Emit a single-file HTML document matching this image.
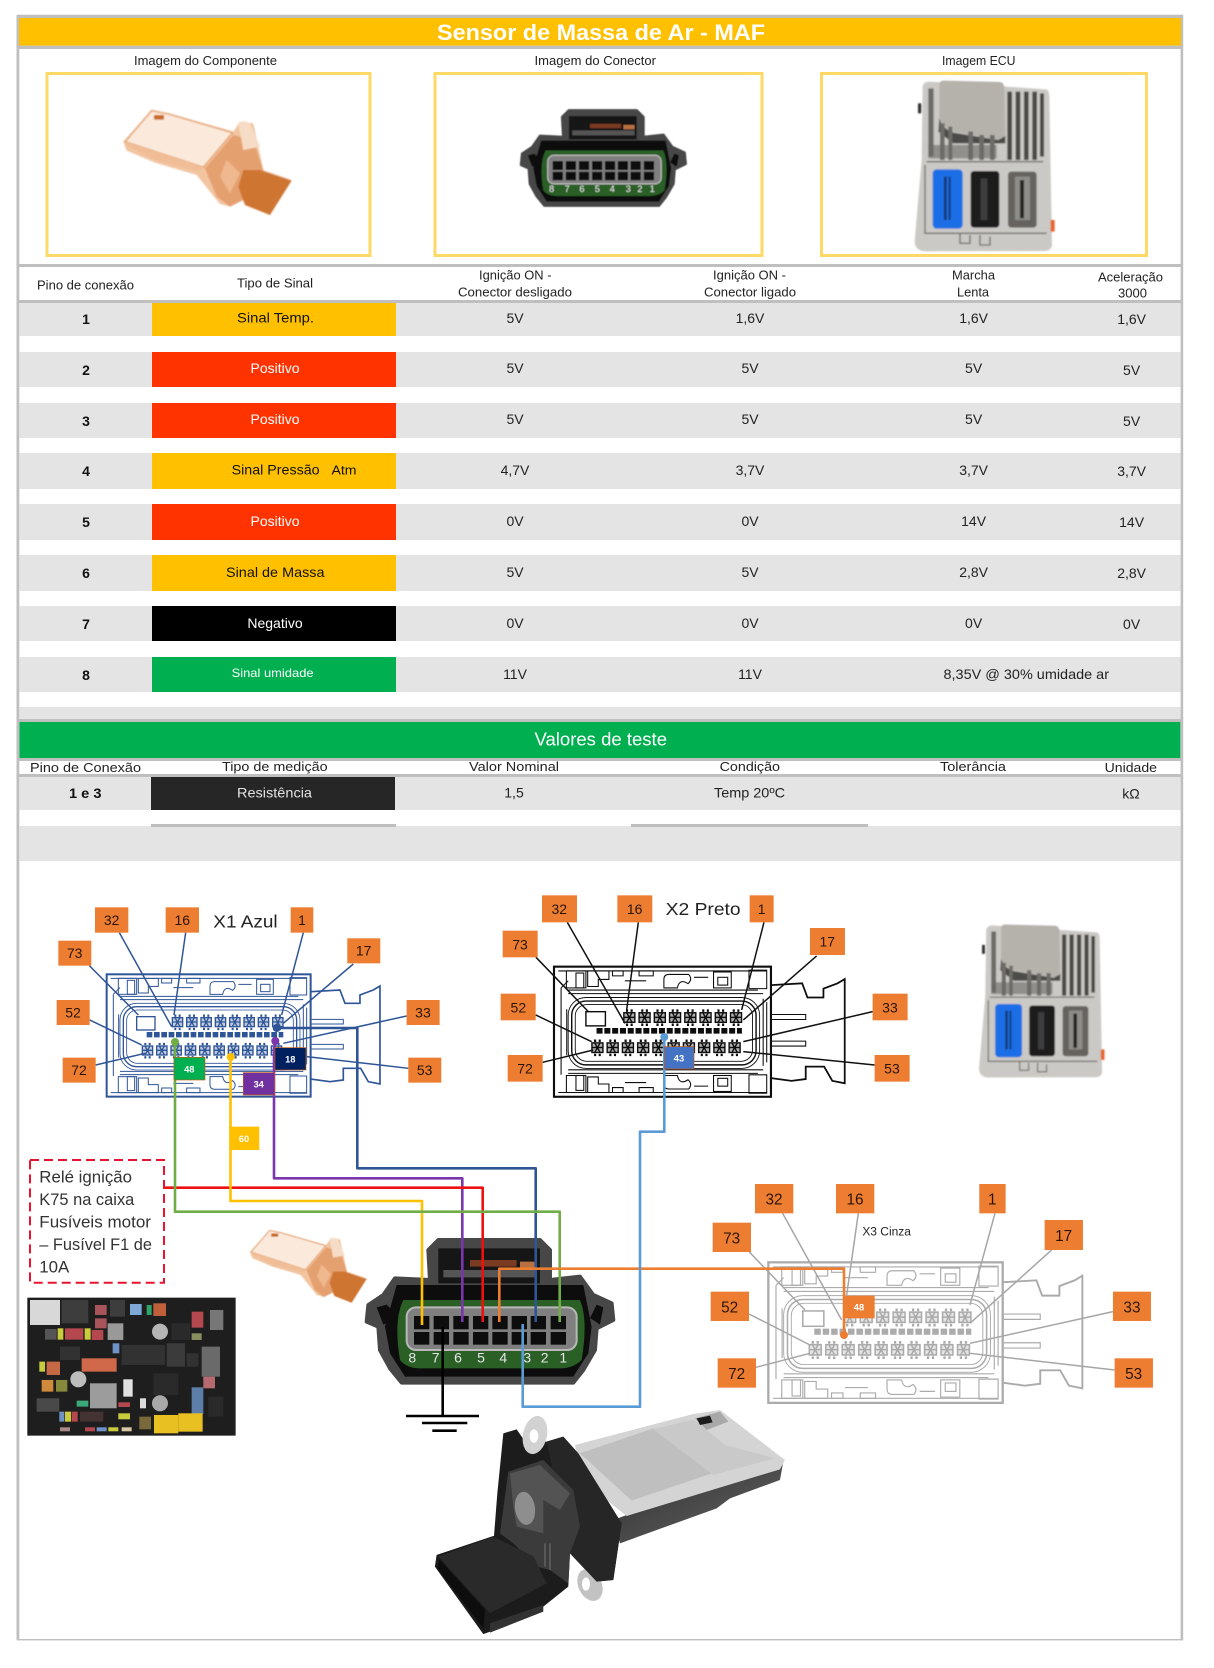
<!DOCTYPE html>
<html lang="pt"><head><meta charset="utf-8"><title>Sensor de Massa de Ar - MAF</title>
<style>
html,body{margin:0;padding:0;background:#fff}
svg{display:block}
text{font-family:"Liberation Sans",sans-serif}
.h{font-size:13px;fill:#222}
.v{font-size:14px;fill:#222;text-anchor:middle}
.p{font-size:14px;font-weight:bold;fill:#111;text-anchor:middle}
.l{font-size:14px;text-anchor:middle}
.b{fill:#ed7d31}
.n{font-size:42px;fill:#2a1505;text-anchor:middle}
.t{font-size:28px;font-weight:bold;fill:#fff;text-anchor:middle}
</style></head><body>
<svg xmlns="http://www.w3.org/2000/svg" width="1214" height="1668" viewBox="0 0 1214 1668">
<defs>
<filter id="bl" x="-5%" y="-5%" width="110%" height="110%"><feGaussianBlur stdDeviation="2.4"/></filter>
<filter id="bs" x="-3%" y="-3%" width="106%" height="106%"><feGaussianBlur stdDeviation="1.1"/></filter>
<g id="pin"><rect x="2" y="8" width="31" height="27" fill="currentColor" fill-opacity=".3"/><g fill="none" stroke="currentColor" stroke-width="4"><rect x="2" y="8" width="31" height="27"/><path d="M2 21H33M10 8L25 35M25 8L10 35"/></g><path d="M8 2h6M21 2h6M8 42h6M21 42h6" stroke="currentColor" stroke-width="7" fill="none"/></g>
<g id="strip" fill="none" stroke="currentColor" stroke-width="3"><rect x="35" y="12" width="55" height="48"/><rect x="62" y="18" width="22" height="42"/><path d="M95 12h60v24h-30v20h-30zM165 12h30v14h-30zM240 12h40v14h-40z"/><path d="M310 60v-24q0-14 14-14h56q12 14-2 26-24-16-30 12z"/><rect x="450" y="15" width="50" height="45"/><rect x="462" y="30" width="28" height="22"/><path d="M550 10h50v52h-50zM40 66H575M40 76H590M12 12H600M200 40h60M395 30h40"/></g>
<g id="conn" fill="none" stroke="currentColor">
<rect x="0" y="0" width="612" height="367" stroke-width="6"/>
<path d="M612 52L700 47L715 87H760V62L800 47L820 35V329L785 322L762 282H710V317L670 322L610 314" stroke-width="5"/>
<path d="M615 135H710V149H615M615 210H710V224H615" stroke-width="3"/>
<rect x="50" y="97" width="520" height="180" rx="40" stroke-width="4"/>
<rect x="60" y="107" width="500" height="160" rx="32" stroke-width="2.5"/>
<rect x="40" y="87" width="540" height="200" rx="50" stroke-width="2.5"/>
<path d="M20 60V305M36 120V250M20 60L40 40M590 90V280M600 100V270" stroke-width="3"/>
<rect x="90" y="127" width="55" height="40" stroke-width="4"/>
<use href="#strip"/><use href="#strip" transform="matrix(1 0 0 -1 0 367)"/>
<use href="#pin" x="195" y="122"/><use href="#pin" x="238" y="122"/><use href="#pin" x="281" y="122"/><use href="#pin" x="324" y="122"/><use href="#pin" x="367" y="122"/><use href="#pin" x="410" y="122"/><use href="#pin" x="453" y="122"/><use href="#pin" x="496" y="122"/>
<path d="M120 181H530" stroke-width="16" stroke-dasharray="17 5"/>
<use href="#pin" x="105" y="207"/><use href="#pin" x="148" y="207"/><use href="#pin" x="191" y="207"/><use href="#pin" x="234" y="207"/><use href="#pin" x="277" y="207"/><use href="#pin" x="320" y="207"/><use href="#pin" x="363" y="207"/><use href="#pin" x="406" y="207"/><use href="#pin" x="449" y="207"/><use href="#pin" x="492" y="207"/>
</g>
<g id="sensor">
<path d="M280 245L290 272L375 308L500 345L540 395L570 432L600 440L640 420L645 435L720 465L785 360L700 330L670 190L630 185L610 215L415 160L365 150Z" fill="#f2c4a0"/>
<path d="M285 245L365 152L415 162L608 218L520 322Z" fill="#fbeadc" stroke="#e7a97c" stroke-width="5"/>
<path d="M288 255L375 300L510 335L520 322L285 245Z" fill="#f0bd96"/>
<path d="M372 165h30v14h-30z" fill="#c96a28"/>
<path d="M525 325L610 225L670 240L700 330L640 420L600 440L560 410Z" fill="#e5a070"/>
<path d="M625 190q15-12 35 0l30 70-50 10z" fill="#f6dcc6"/>
<path d="M640 330L690 330L785 362L720 465L645 435L625 380Z" fill="#cf7433"/>
<path d="M590 300l40 40-30 60-30-50z" fill="#efb88e"/>
</g>
<g id="plug8">
<path d="M185 488L150 445L120 390L115 320L80 305L85 255L130 225L165 175L270 180L265 90L295 60H600L630 90V180L720 170L760 225L815 250L820 300L770 325L765 390L730 450L700 488Z" fill="#474747" stroke="#474747" stroke-width="12" stroke-linejoin="round"/>
<path d="M295 85H600V190H295Z" fill="#141414"/>
<path d="M390 120H530V140H390Z" fill="#7a3a20"/><path d="M310 150H590V172H310Z" fill="#555"/><path d="M540 125H590V145H540Z" fill="#b87040"/>
<path d="M195 470L150 400L135 320L170 195H730L755 320L745 400L700 470Z" fill="#0e0e0e"/>
<path d="M110 262l30-8 40 40-50 20z" fill="#111"/><path d="M790 262l-20-8-20 40 30 20z" fill="#111"/>
<path d="M190 240H720Q745 300 725 420Q700 445 660 445H240Q200 445 180 420Q160 300 190 240Z" fill="#2a5f28"/>
<rect x="200" y="262" width="510" height="128" rx="28" fill="#7f7f7f" stroke="#b8b8b8" stroke-width="6"/>
<g fill="#0c0c0c">
<rect x="222" y="288" width="46" height="40"/><rect x="222" y="336" width="46" height="38"/>
<rect x="281" y="288" width="46" height="40"/><rect x="281" y="336" width="46" height="38"/>
<rect x="340" y="288" width="46" height="40"/><rect x="340" y="336" width="46" height="38"/>
<rect x="399" y="288" width="46" height="40"/><rect x="399" y="336" width="46" height="38"/>
<rect x="457" y="288" width="46" height="40"/><rect x="457" y="336" width="46" height="38"/>
<rect x="515" y="288" width="46" height="40"/><rect x="515" y="336" width="46" height="38"/>
<rect x="572" y="288" width="46" height="40"/><rect x="572" y="336" width="46" height="38"/>
<rect x="632" y="288" width="46" height="40"/><rect x="632" y="336" width="46" height="38"/>
</g>
<g font-size="42" fill="#e6e6e6" text-anchor="middle"><text x="217" y="428">8</text><text x="287" y="428">7</text><text x="354" y="428">6</text><text x="423" y="428">5</text><text x="490" y="428">4</text><text x="562" y="428">3</text><text x="614" y="428">2</text><text x="670" y="428">1</text></g>
</g>
<g id="ecu">
<path d="M308 80Q310 65 330 65L680 88Q688 92 688 110L696 555Q694 574 670 573L315 574Q285 572 284 545L305 300Z" fill="#cbc9c5"/>
<path d="M358 72Q360 60 375 62L540 66Q553 68 553 85L556 225Q555 240 535 238L400 215Q365 200 358 175Z" fill="#b5b1ab"/>
<path d="M358 175Q365 205 400 218L535 240L556 228V250H400L355 215Z" fill="#4e4c4a"/>
<path d="M325 85h16v205h-16zM360 190h14v110h-14zM385 200h12v100h-12zM445 215h14v85h-14zM478 225h14v75h-14zM510 225h14v75h-14z" fill="#6e6c68"/>
<path d="M325 255H530V295H325Z" fill="#6b6966" fill-opacity=".6"/>
<path d="M562 95h14v205h-14zM587 95h14v205h-14zM612 95h14v205h-14zM637 95h14v205h-14zM660 100h12v190h-12z" fill="#4a4845"/>
<path d="M320 305H670M315 315V520H680" fill="none" stroke="#6e6c68" stroke-width="4"/>
<rect x="338" y="328" width="90" height="178" rx="12" fill="#1a6ee6"/>
<path d="M372 350h8v130h-8zM386 350h6v130h-6z" fill="#12356e"/>
<rect x="452" y="333" width="86" height="170" rx="10" fill="#1a1a1a"/>
<path d="M482 355h20v125h-20z" fill="#3e3e3e"/>
<rect x="564" y="335" width="86" height="168" rx="10" fill="#66645f"/>
<path d="M585 350h45v130h-45z" fill="#8f8d88"/><path d="M600 360h12v115h-12z" fill="#222"/>
<path d="M692 480h12v35h-12z" fill="#e8622a"/><path d="M294 130h10v30h-10z" fill="#333"/>
<path d="M420 520v30h30v-25M480 525v30h30v-25" fill="none" stroke="#6e6c68" stroke-width="4"/>
</g>
</defs>

<rect width="1214" height="1668" fill="#fff"/>
<!-- outer frame -->
<rect x="16.5" y="15" width="2.8" height="1625" fill="#bfbfbf"/>
<rect x="1180.6" y="15" width="2.6" height="1625" fill="#bfbfbf"/>
<rect x="17" y="14.7" width="1166" height="3.3" fill="#bfbfbf"/>
<rect x="17" y="1639" width="1166" height="1.4" fill="#bfbfbf"/>
<!-- title -->
<rect x="19" y="18" width="1162" height="27.7" fill="#ffc000"/>
<rect x="17" y="45.7" width="1166" height="3.3" fill="#bfbfbf"/>
<text x="437" y="40" font-size="22" font-weight="bold" fill="#fff" textLength="328" lengthAdjust="spacingAndGlyphs">Sensor de Massa de Ar - MAF</text>
<text class="h" x="134" y="65" textLength="143" lengthAdjust="spacingAndGlyphs">Imagem do Componente</text>
<text class="h" x="534.5" y="65" textLength="121.5" lengthAdjust="spacingAndGlyphs">Imagem do Conector</text>
<text class="h" x="942" y="65" textLength="73.5" lengthAdjust="spacingAndGlyphs">Imagem ECU</text>
<g fill="none" stroke="#ffd966" stroke-width="3">
<rect x="47" y="73.5" width="323" height="182"/><rect x="435" y="73.5" width="327" height="182"/><rect x="821.5" y="73.5" width="325" height="182"/>
</g>
<g transform="translate(30 60) scale(.3333)"><g filter="url(#bl)"><use href="#sensor"/></g></g>
<g transform="translate(430 60) scale(.3333) translate(272 148) scale(.667) translate(-78 -55)"><g filter="url(#bl)"><use href="#plug8"/></g></g>
<g transform="translate(820 60) scale(.3333)"><g filter="url(#bl)"><use href="#ecu"/></g></g>
<!-- header -->
<rect x="17" y="264" width="1166" height="3" fill="#bfbfbf"/>
<rect x="17" y="300" width="1166" height="3" fill="#bfbfbf"/>
<text class="h" x="37" y="289.5" textLength="97" lengthAdjust="spacingAndGlyphs">Pino de conexão</text>
<text class="h" x="237" y="287.5" textLength="76" lengthAdjust="spacingAndGlyphs">Tipo de Sinal</text>
<text class="h" x="479" y="279.5" textLength="72.5" lengthAdjust="spacingAndGlyphs">Ignição ON -</text>
<text class="h" x="458" y="296.5" textLength="114" lengthAdjust="spacingAndGlyphs">Conector desligado</text>
<text class="h" x="713" y="279.5" textLength="73" lengthAdjust="spacingAndGlyphs">Ignição ON -</text>
<text class="h" x="704" y="296.5" textLength="92" lengthAdjust="spacingAndGlyphs">Conector ligado</text>
<text class="h" x="952" y="279.5" textLength="43" lengthAdjust="spacingAndGlyphs">Marcha</text>
<text class="h" x="957" y="296.5" textLength="32" lengthAdjust="spacingAndGlyphs">Lenta</text>
<text class="h" x="1098" y="281.5" textLength="65" lengthAdjust="spacingAndGlyphs">Aceleração</text>
<text class="h" x="1118" y="297.5" textLength="29" lengthAdjust="spacingAndGlyphs">3000</text>
<!-- rows -->
<g fill="#e4e4e4">
<rect x="19.4" y="303" width="1161.2" height="33"/><rect x="19.4" y="352" width="1161.2" height="35"/><rect x="19.4" y="403" width="1161.2" height="35"/><rect x="19.4" y="453" width="1161.2" height="36"/><rect x="19.4" y="504" width="1161.2" height="36"/><rect x="19.4" y="555" width="1161.2" height="36"/><rect x="19.4" y="606" width="1161.2" height="35"/><rect x="19.4" y="657" width="1161.2" height="35"/><rect x="19.4" y="707" width="1161.2" height="12"/>
</g>
<rect x="152" y="303" width="244" height="33" fill="#ffc000"/>
<rect x="152" y="352" width="244" height="35" fill="#ff3300"/>
<rect x="152" y="403" width="244" height="35" fill="#ff3300"/>
<rect x="152" y="453" width="244" height="36" fill="#ffc000"/>
<rect x="152" y="504" width="244" height="36" fill="#ff3300"/>
<rect x="152" y="555" width="244" height="36" fill="#ffc000"/>
<rect x="152" y="606" width="244" height="35" fill="#000"/>
<rect x="152" y="657" width="244" height="35" fill="#00b050"/>
<text class="p" x="86" y="324">1</text><text class="p" x="86" y="375">2</text><text class="p" x="86" y="426">3</text><text class="p" x="86" y="476">4</text><text class="p" x="86" y="527">5</text><text class="p" x="86" y="578">6</text><text class="p" x="86" y="629">7</text><text class="p" x="86" y="680">8</text>
<text x="237" y="322.5" font-size="14" fill="#111" textLength="77" lengthAdjust="spacingAndGlyphs">Sinal Temp.</text>
<text class="l" x="275" y="373" fill="#fff">Positivo</text>
<text class="l" x="275" y="424" fill="#fff">Positivo</text>
<text x="231.6" y="474.5" font-size="14" fill="#111" textLength="88" lengthAdjust="spacingAndGlyphs">Sinal Pressão</text>
<text x="331.5" y="474.5" font-size="12.5" fill="#111" textLength="25" lengthAdjust="spacingAndGlyphs">Atm</text>
<text class="l" x="275" y="526" fill="#fff">Positivo</text>
<text x="226" y="577" font-size="14" fill="#111" textLength="98.5" lengthAdjust="spacingAndGlyphs">Sinal de Massa</text>
<text class="l" x="275" y="628" fill="#fff">Negativo</text>
<text x="231.6" y="677" font-size="12" fill="#fff" textLength="82" lengthAdjust="spacingAndGlyphs">Sinal umidade</text>
<g class="vals">
<text class="v" x="515" y="323">5V</text><text class="v" x="750" y="323">1,6V</text><text class="v" x="973.6" y="323">1,6V</text><text class="v" x="1131.6" y="324">1,6V</text>
<text class="v" x="515" y="373">5V</text><text class="v" x="750" y="373">5V</text><text class="v" x="973.6" y="373">5V</text><text class="v" x="1131.6" y="375">5V</text>
<text class="v" x="515" y="424">5V</text><text class="v" x="750" y="424">5V</text><text class="v" x="973.6" y="424">5V</text><text class="v" x="1131.6" y="426">5V</text>
<text class="v" x="515" y="475">4,7V</text><text class="v" x="750" y="475">3,7V</text><text class="v" x="973.6" y="475">3,7V</text><text class="v" x="1131.6" y="476">3,7V</text>
<text class="v" x="515" y="526">0V</text><text class="v" x="750" y="526">0V</text><text class="v" x="973.6" y="526">14V</text><text class="v" x="1131.6" y="527">14V</text>
<text class="v" x="515" y="577">5V</text><text class="v" x="750" y="577">5V</text><text class="v" x="973.6" y="577">2,8V</text><text class="v" x="1131.6" y="578">2,8V</text>
<text class="v" x="515" y="628">0V</text><text class="v" x="750" y="628">0V</text><text class="v" x="973.6" y="628">0V</text><text class="v" x="1131.6" y="629">0V</text>
<text class="v" x="515" y="679">11V</text><text class="v" x="750" y="679">11V</text>
<text x="943.5" y="679" font-size="14" fill="#222" textLength="165.5" lengthAdjust="spacingAndGlyphs">8,35V @ 30% umidade ar</text>
</g>
<!-- valores de teste -->
<rect x="17" y="719" width="1166" height="3" fill="#bfbfbf"/>
<rect x="19.4" y="722" width="1161" height="36" fill="#00b050"/>
<rect x="17" y="758" width="1166" height="3" fill="#bfbfbf"/>
<text x="534.5" y="745.5" font-size="18" fill="#fff" textLength="132.5" lengthAdjust="spacingAndGlyphs">Valores de teste</text>
<text class="h" x="30" y="772" textLength="111" lengthAdjust="spacingAndGlyphs">Pino de Conexão</text>
<text class="h" x="222" y="771" textLength="105.6" lengthAdjust="spacingAndGlyphs">Tipo de medição</text>
<text class="h" x="469" y="771" textLength="90" lengthAdjust="spacingAndGlyphs">Valor Nominal</text>
<text class="h" x="719.6" y="771" textLength="60.4" lengthAdjust="spacingAndGlyphs">Condição</text>
<text class="h" x="940" y="771" textLength="66" lengthAdjust="spacingAndGlyphs">Tolerância</text>
<text class="h" x="1104.6" y="772" textLength="52.4" lengthAdjust="spacingAndGlyphs">Unidade</text>
<rect x="17" y="774" width="1166" height="3" fill="#bfbfbf"/>
<rect x="19.4" y="777" width="1161.2" height="33" fill="#e4e4e4"/>
<rect x="151" y="777" width="244" height="33" fill="#262626"/>
<text x="69" y="798" font-size="14" font-weight="bold" fill="#111" textLength="32.5" lengthAdjust="spacingAndGlyphs">1 e 3</text>
<text x="237" y="797.5" font-size="14" fill="#e2e2e2" textLength="75" lengthAdjust="spacingAndGlyphs">Resistência</text>
<text class="v" x="514" y="797.5">1,5</text>
<text x="714" y="797.5" font-size="14" fill="#222" textLength="71" lengthAdjust="spacingAndGlyphs">Temp 20ºC</text>
<text class="v" x="1131" y="798.5">kΩ</text>
<rect x="19.4" y="826" width="1161.2" height="35" fill="#e4e4e4"/>
<rect x="151" y="824" width="245" height="3" fill="#bfbfbf"/>
<rect x="631" y="824" width="237" height="3" fill="#bfbfbf"/>

<!-- X1 -->
<g transform="translate(20 880) scale(.3333)">
<g style="color:#2f5597" filter="url(#bs)"><use href="#conn" transform="translate(260 283)"/></g>
<g fill="none" stroke="#2f5597" stroke-width="4.5">
<path d="M298 158L455 440M497 158L462 405M850 158L785 405M208 257L355 405M1000 252L790 430M209 420L365 495M1160 408L790 490M227 555L375 520M1165 565L860 530"/>
</g>
<rect class="b" x="225" y="82" width="100" height="76"/><rect class="b" x="437" y="82" width="100" height="76"/><rect class="b" x="812" y="82" width="68" height="76"/><rect class="b" x="115" y="182" width="99" height="75"/><rect class="b" x="982" y="175" width="99" height="75"/><rect class="b" x="110" y="360" width="99" height="75"/><rect class="b" x="1160" y="360" width="99" height="75"/><rect class="b" x="128" y="533" width="99" height="75"/><rect class="b" x="1165" y="533" width="99" height="75"/>
<text class="n" x="275" y="135">32</text><text class="n" x="487" y="135">16</text><text class="n" x="846" y="135">1</text><text class="n" x="164" y="234">73</text><text class="n" x="1031" y="227">17</text><text class="n" x="159" y="412">52</text><text class="n" x="1209" y="412">33</text><text class="n" x="177" y="585">72</text><text class="n" x="1214" y="585">53</text>
<text x="580" y="143" font-size="54" fill="#222" textLength="193" lengthAdjust="spacingAndGlyphs">X1 Azul</text>
</g>
<!-- X2 -->
<g transform="translate(480 880) scale(.3333)">
<g style="color:#111" filter="url(#bs)"><use href="#conn" transform="translate(222 260) scale(1.0637)"/></g>
<g fill="none" stroke="#111" stroke-width="4.5">
<path d="M262 127L435 430M475 127L440 390M852 127L785 390M168 232L325 395M1010 228L790 420M167 405L335 485M1178 395L790 485M188 547L340 510M1184 555L790 515"/>
</g>
<rect class="b" x="186" y="46" width="105" height="81"/><rect class="b" x="412" y="46" width="105" height="81"/><rect class="b" x="809" y="46" width="72" height="81"/><rect class="b" x="68" y="152" width="105" height="80"/><rect class="b" x="990" y="144" width="105" height="81"/><rect class="b" x="62" y="341" width="105" height="80"/><rect class="b" x="1178" y="341" width="105" height="80"/><rect class="b" x="83" y="525" width="105" height="80"/><rect class="b" x="1184" y="525" width="105" height="80"/>
<text class="n" x="238" y="102">32</text><text class="n" x="464" y="102">16</text><text class="n" x="845" y="102">1</text><text class="n" x="120" y="208">73</text><text class="n" x="1042" y="200">17</text><text class="n" x="115" y="397">52</text><text class="n" x="1230" y="397">33</text><text class="n" x="135" y="581">72</text><text class="n" x="1236" y="581">53</text>
<text x="557" y="105" font-size="54" fill="#222" textLength="225" lengthAdjust="spacingAndGlyphs">X2 Preto</text>
</g>
<!-- X3 -->
<g transform="translate(700 1170) scale(.3333)">
<g style="color:#ababab" filter="url(#bs)"><use href="#conn" transform="translate(205 277) scale(1.149)"/></g>
<g fill="none" stroke="#a6a6a6" stroke-width="4.5">
<path d="M248 130L425 450M475 130L440 375M885 130L810 405M148 246L315 420M1055 240L810 460M147 432L330 525M1239 425L810 520M168 592L330 550M1244 600L810 550"/>
</g>
<rect class="b" x="165" y="42" width="115" height="88"/><rect class="b" x="408" y="42" width="115" height="88"/><rect class="b" x="838" y="42" width="79" height="88"/><rect class="b" x="38" y="158" width="115" height="88"/><rect class="b" x="1034" y="150" width="115" height="90"/><rect class="b" x="32" y="365" width="115" height="88"/><rect class="b" x="1239" y="365" width="114" height="88"/><rect class="b" x="53" y="565" width="115" height="88"/><rect class="b" x="1244" y="565" width="115" height="88"/>
<g><text class="n" style="font-size:46px" x="222" y="104">32</text><text class="n" style="font-size:46px" x="465" y="104">16</text><text class="n" style="font-size:46px" x="877" y="104">1</text><text class="n" style="font-size:46px" x="95" y="220">73</text><text class="n" style="font-size:46px" x="1091" y="213">17</text><text class="n" style="font-size:46px" x="89" y="427">52</text><text class="n" style="font-size:46px" x="1296" y="427">33</text><text class="n" style="font-size:46px" x="110" y="627">72</text><text class="n" style="font-size:46px" x="1301" y="627">53</text></g>
<text x="487" y="197" font-size="36" fill="#222" textLength="146" lengthAdjust="spacingAndGlyphs">X3 Cinza</text>
</g>
<!-- small sensor, 8-pin plug, ECU, fuse box, relay note -->
<g transform="translate(10 1150) scale(.3333) translate(720 240) scale(.693) translate(-280 -150)"><g filter="url(#bl)"><use href="#sensor"/></g></g>
<g transform="translate(340 1220) scale(.3333)"><g filter="url(#bs)"><use href="#plug8"/></g></g>
<g transform="translate(960 900) scale(.3333) translate(58 72) scale(.896) translate(-285 -60)"><g filter="url(#bl)"><use href="#ecu"/></g></g>

<rect x="30" y="1160" width="134" height="122.7" fill="#fff" stroke="#e8132e" stroke-width="2" stroke-dasharray="9 5"/>
<g font-size="17" fill="#333">
<text x="39.3" y="1182.5" textLength="92.7" lengthAdjust="spacingAndGlyphs">Relé ignição</text>
<text x="39.3" y="1205" textLength="95" lengthAdjust="spacingAndGlyphs">K75 na caixa</text>
<text x="39.3" y="1227.5" textLength="111.7" lengthAdjust="spacingAndGlyphs">Fusíveis motor</text>
<text x="39.3" y="1250" textLength="112.7" lengthAdjust="spacingAndGlyphs">– Fusível F1 de</text>
<text x="39.3" y="1272.5" textLength="30" lengthAdjust="spacingAndGlyphs">10A</text>
</g>
<g transform="translate(10 1150) scale(.3333)">
<rect x="52" y="443" width="625" height="414" fill="#1e1e1e"/>
<g filter="url(#bs)">
<rect x="60" y="450" width="90" height="75" fill="#d8d8d8"/><rect x="155" y="450" width="80" height="70" fill="#3c3c3c"/>
<rect x="255" y="465" width="35" height="30" fill="#a9535a"/><rect x="255" y="505" width="35" height="30" fill="#a9535a"/>
<rect x="300" y="450" width="45" height="50" fill="#3e3e3e"/><rect x="360" y="462" width="35" height="33" fill="#7fa8d8"/><rect x="410" y="465" width="15" height="30" fill="#2ea36a"/><rect x="430" y="460" width="38" height="38" fill="#c0603a"/>
<rect x="293" y="520" width="47" height="50" fill="#999"/><circle cx="450" cy="545" r="24" fill="#b5b5b5"/>
<rect x="105" y="537" width="35" height="32" fill="#555"/><rect x="143" y="535" width="17" height="34" fill="#c9cc3a"/><rect x="165" y="535" width="55" height="34" fill="#b5474f"/><rect x="224" y="535" width="18" height="34" fill="#c9cc3a"/><rect x="245" y="540" width="35" height="30" fill="#b5474f"/>
<rect x="545" y="485" width="35" height="48" fill="#b5474f"/><rect x="600" y="480" width="40" height="60" fill="#777"/><rect x="485" y="520" width="55" height="50" fill="#2c2c2c"/>
<rect x="545" y="550" width="30" height="20" fill="#8a8f60"/><rect x="308" y="580" width="20" height="30" fill="#6d93c8"/>
<rect x="335" y="585" width="130" height="60" fill="#303030"/><rect x="470" y="580" width="55" height="70" fill="#3a3a3a"/>
<rect x="575" y="590" width="55" height="90" fill="#6a6a6a"/><rect x="530" y="610" width="35" height="40" fill="#333"/>
<rect x="215" y="625" width="105" height="40" fill="#d0694a"/><rect x="110" y="635" width="40" height="40" fill="#c56745"/><rect x="88" y="635" width="17" height="30" fill="#c9cc3a"/><rect x="150" y="590" width="60" height="40" fill="#333"/>
<rect x="95" y="690" width="35" height="35" fill="#d08a3a"/><rect x="138" y="690" width="34" height="35" fill="#888a3a"/><circle cx="205" cy="688" r="24" fill="#bdbdbd"/>
<rect x="240" y="700" width="80" height="75" fill="#9c9c9c"/><rect x="340" y="688" width="28" height="52" fill="#e0e0e0"/><rect x="430" y="670" width="75" height="65" fill="#2a2a2a"/>
<circle cx="450" cy="760" r="24" fill="#a8a8a8"/><rect x="545" y="712" width="35" height="80" fill="#5d7ea8"/><rect x="580" y="680" width="35" height="35" fill="#b56a70"/><rect x="595" y="740" width="45" height="60" fill="#2c2c2c"/>
<rect x="80" y="745" width="68" height="40" fill="#4a4a4a"/><rect x="200" y="752" width="35" height="18" fill="#3aa87a"/>
<rect x="148" y="785" width="15" height="30" fill="#6d93c8"/><rect x="165" y="785" width="18" height="30" fill="#c9cc3a"/><rect x="185" y="785" width="18" height="30" fill="#b5474f"/><rect x="210" y="785" width="70" height="30" fill="#433"/><rect x="325" y="790" width="35" height="18" fill="#c9cc3a"/><rect x="325" y="757" width="35" height="14" fill="#b5474f"/><rect x="390" y="745" width="18" height="30" fill="#ddd"/><rect x="388" y="800" width="35" height="38" fill="#7a6a3a"/>
<rect x="150" y="832" width="30" height="12" fill="#a88"/><rect x="225" y="832" width="30" height="12" fill="#b5474f"/><rect x="260" y="832" width="30" height="12" fill="#6d93c8"/><rect x="295" y="832" width="30" height="12" fill="#c9cc3a"/><rect x="335" y="832" width="30" height="12" fill="#d8c8a8"/>
<rect x="432" y="795" width="73" height="55" fill="#e8c020"/><rect x="505" y="790" width="73" height="55" fill="#e8c020"/>
</g>
</g>
<!-- big MAF sensor -->
<g transform="translate(400 1410) scale(.3333)">
<defs><linearGradient id="bd" x1="0" y1="0" x2="1" y2="1"><stop offset="0" stop-color="#2a2a2a"/><stop offset="1" stop-color="#6a6a6a"/></linearGradient></defs>
<g filter="url(#bs)">
<path d="M680 315L1150 155L1140 210L990 265L950 295L660 400L640 330Z" fill="url(#bd)"/>
<path d="M525 105L880 12L960 0L1155 150L1140 178L680 318L620 270L535 145Z" fill="#d4d4d4"/>
<path d="M540 130L760 55L935 190L695 272Z" fill="#bfbfbf"/>
<path d="M760 58L880 28L975 105L1125 145L940 195Z" fill="#c9c9c9"/>
<path d="M885 25L960 5L985 35L920 60Z" fill="#a8a8a8"/><path d="M890 25l40-8 8 20-38 8z" fill="#1d1d1d"/>
<path d="M310 70L350 58L372 90L440 95L490 80L535 130L665 340L640 510L590 515L510 430L505 530L430 590L270 665L250 672L105 470L110 435L282 378L292 250Z" fill="#1e1e1e"/>
<ellipse cx="405" cy="75" rx="36" ry="58" fill="#d2d2d2" transform="rotate(12 405 75)"/><ellipse cx="402" cy="78" rx="13" ry="20" fill="#fff"/>
<ellipse cx="570" cy="525" rx="35" ry="50" fill="#c2c2c2" transform="rotate(-25 570 525)"/><ellipse cx="558" cy="522" rx="12" ry="20" fill="#fff"/>
<path d="M440 95L490 80L535 130L665 340L640 510L590 515L510 430Z" fill="#252525"/>
<path d="M325 185L430 150L520 240L540 350L510 430L505 520L450 480L410 470L340 400L300 370Z" fill="#3a3a3a"/>
<path d="M330 190L420 165L510 250L480 300L430 270L430 370L350 350L340 290Z" fill="#525252"/>
<ellipse cx="375" cy="295" rx="30" ry="50" fill="#8e8e8e" transform="rotate(-8 375 295)"/>
<path d="M110 435L280 378L400 440L440 520L430 590L270 665L250 672L105 470Z" fill="#1a1a1a"/>
<path d="M280 380L400 440L440 520L270 610L115 440Z" fill="#2a2a2a"/>
<path d="M118 448L255 600L250 655L112 475Z" fill="#0c0c0c"/>
<path d="M270 640L430 585L430 605L270 668Z" fill="#333"/>
<path d="M435 400v70M450 400v80" stroke="#666" stroke-width="4" fill="none"/>
</g>
</g>

<!-- wires -->
<g fill="none" stroke-width="2.6" stroke-linejoin="round">
<path stroke="#2f5597" d="M276.7 1028H357.3V1168.3H535.7V1322"/>
<path stroke="#7b35ad" d="M275.3 1041L274 1050V1178.3H462.3V1322"/>
<path stroke="#ee1111" d="M165 1187.7H482.7V1322"/>
<path stroke="#ffc000" d="M230.5 1057V1201H422V1325"/>
<path stroke="#70ad47" d="M175 1042V1211.7H559.7V1322"/>
<path stroke="#ed7d31" d="M499.3 1322V1268.7H844V1335"/>
<path stroke="#5b9bd5" d="M664.3 1037V1131.7H640V1406.7H522.7V1324"/>
<path stroke="#000" d="M442.7 1327V1416"/>
<path stroke="#000" d="M406 1416H479M422 1423H467.3M432.3 1430.7H456.7"/>
</g>
<circle cx="175" cy="1042" r="4" fill="#70ad47"/><circle cx="276.7" cy="1028" r="4" fill="#2f5597"/><circle cx="275.3" cy="1041" r="4" fill="#7b35ad"/><circle cx="230.7" cy="1057" r="4" fill="#ffc000"/><circle cx="664.3" cy="1037" r="4" fill="#5b9bd5"/><circle cx="844" cy="1335" r="4" fill="#ed7d31"/>
<!-- pin tags -->
<g transform="translate(20 880) scale(.3333)" stroke="#c55a11" stroke-width="2">
<rect x="462" y="532" width="93" height="68" fill="#00b050"/><rect x="765" y="503" width="93" height="67" fill="#002060"/><rect x="670" y="578" width="93" height="67" fill="#7030a0"/><rect x="628" y="740" width="90" height="70" fill="#ffc000" stroke="none"/>
</g>
<g transform="translate(20 880) scale(.3333)">
<text class="t" x="508" y="577">48</text><text class="t" x="811" y="548">18</text><text class="t" x="716" y="622">34</text><text class="t" x="672" y="786">60</text>
</g>
<g transform="translate(480 880) scale(.3333)">
<rect x="553" y="500" width="89" height="67" fill="#4472c4" stroke="#c55a11" stroke-width="2"/><text class="t" x="597" y="544">43</text>
</g>
<g transform="translate(700 1170) scale(.3333)">
<rect x="430" y="377" width="94" height="68" fill="#ed7d31"/><text class="t" x="477" y="421">48</text>
</g>
</svg>
</body></html>
